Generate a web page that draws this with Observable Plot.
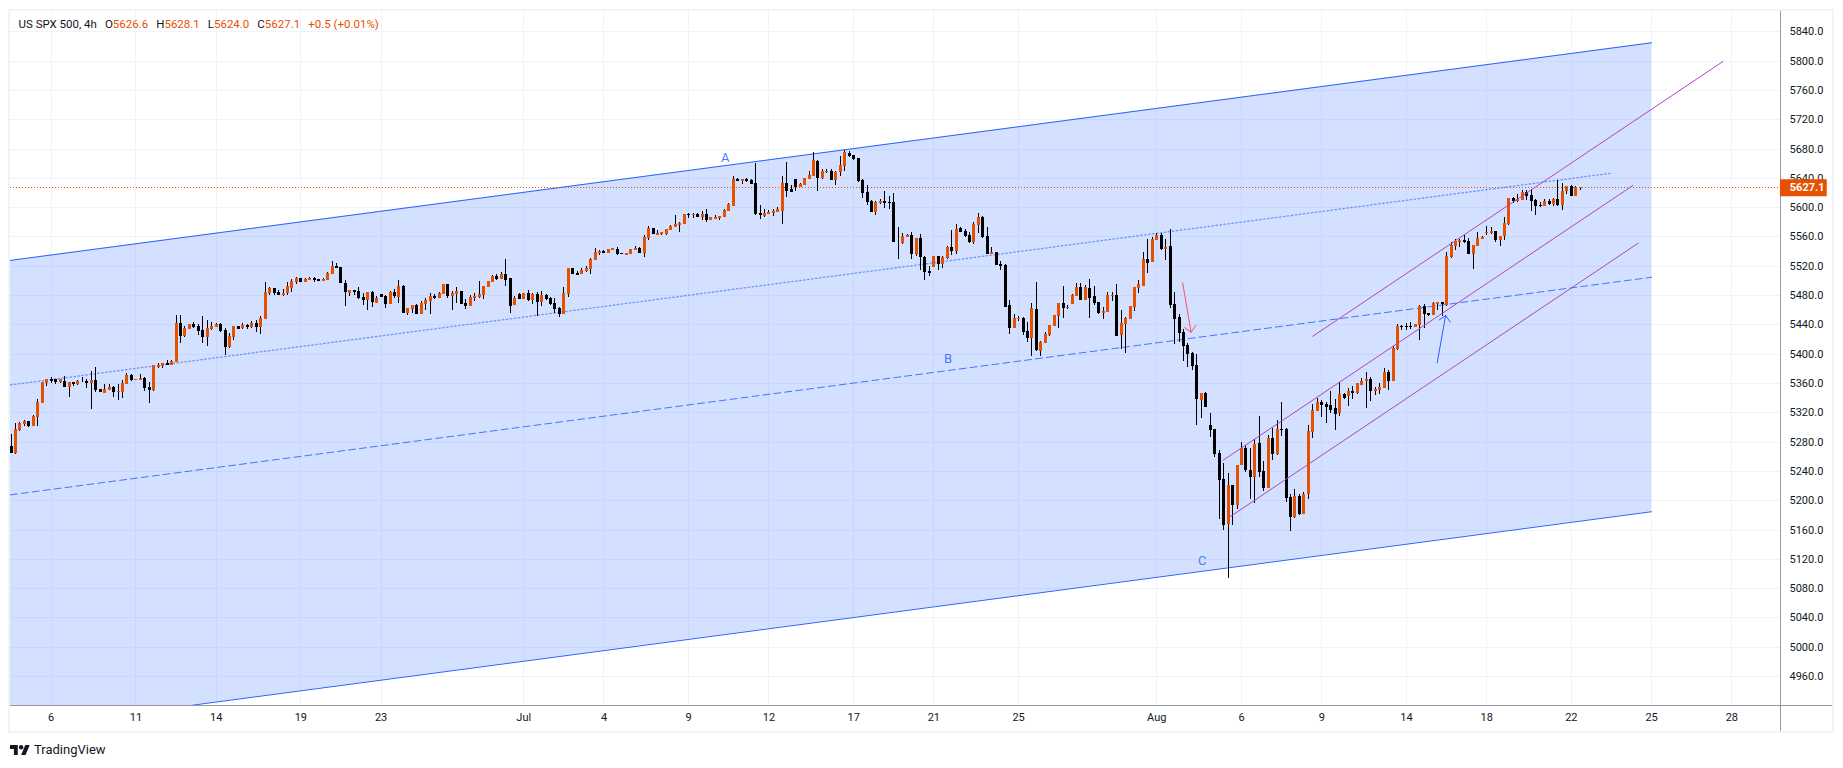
<!DOCTYPE html>
<html><head><meta charset="utf-8">
<style>
html,body{margin:0;padding:0;background:#fff;overflow:hidden}
#wrap{position:relative;width:1843px;height:768px;font-family:Roboto,sans-serif;color:#131722}
#border{position:absolute;left:8px;top:9px;width:1826px;height:724px;box-sizing:border-box;border:2px solid #f0f3fa;pointer-events:none;z-index:2}
#title{position:absolute;left:18.5px;top:17px;font-size:11.5px;line-height:15px;white-space:nowrap;z-index:3}
#title b{font-weight:400;color:#e65100}
#title span{margin-left:8px}
#logo{position:absolute;left:10px;top:742px;display:flex;align-items:center;gap:4px;font-size:13px;line-height:16px}
</style>
<script src="https://cdn.jsdelivr.net/npm/d3@7"></script>
<script src="https://cdn.jsdelivr.net/npm/@observablehq/plot@0.6"></script>
</head><body>
<div id="wrap">
<div id="border"></div>
<div id="title">US SPX 500, 4h<span>O<b>5626.6</b></span><span>H<b>5628.1</b></span><span>L<b>5624.0</b></span><span>C<b>5627.1</b></span><span><b>+0.5 (+0.01%)</b></span></div>
<div id="chart"></div>
<div id="logo"><svg width="20" height="10" viewBox="0 4 36 18"><path fill="#131722" d="M14 22H7V11H0V4h14v18zM28 22h-8l7.5-18h8L28 22z"/><circle fill="#131722" cx="20" cy="8" r="4"/></svg><span>TradingView</span></div>
</div>
<script>
// open, high, low, close
const juneBars = [
[5274,5291,5264,5264],[5264,5305,5263,5297],[5296,5307,5294,5305],[5304,5310,5301,5308],[5308,5308,5300,5301],
[5301,5316,5301,5315],[5314,5338,5301,5334],[5333,5361,5332,5361],[5360,5366,5356,5365],[5365,5368,5360,5363],
[5365,5365,5359,5361],[5361,5365,5360,5365],[5363,5370,5355,5355],[5355,5361,5341,5361],[5361,5361,5356,5359],
[5359,5364,5357,5363],[5361,5368,5361,5362],[5363,5365,5353,5360],[5360,5376,5325,5364],[5364,5382,5348,5350],
[5352,5352,5348,5348],[5346,5359,5346,5352],[5350,5358,5350,5355],[5355,5356,5341,5348],[5348,5359,5337,5349],
[5348,5364,5340,5360],[5359,5373,5359,5371],[5371,5372,5363,5364],[5364,5365,5364,5365],[5364,5372,5364,5367],
[5367,5368,5349,5353],[5354,5361,5333,5350],[5350,5385,5349,5384],[5382,5387,5380,5385],[5383,5387,5381,5387],
[5387,5391,5385,5385],[5385,5391,5385,5390],[5389,5453,5389,5442],[5442,5453,5415,5424],[5424,5438,5423,5435],
[5434,5441,5434,5440],[5440,5443,5435,5436],[5438,5440,5425,5431],[5432,5451,5415,5423],[5423,5446,5410,5435],
[5434,5443,5432,5438],[5436,5442,5436,5440],[5440,5442,5430,5431],[5432,5435,5398,5409],[5409,5428,5408,5424],
[5423,5438,5419,5438],[5438,5438,5434,5434],[5435,5442,5434,5439],[5439,5440,5434,5436],[5436,5445,5435,5442],
[5442,5446,5430,5436],[5436,5451,5427,5449],[5447,5498,5447,5484],[5483,5491,5480,5490],[5490,5490,5480,5483],
[5484,5487,5480,5480],[5480,5488,5479,5483],[5483,5498,5480,5492],[5490,5502,5484,5499],[5498,5505,5495,5503],
[5503,5503,5498,5498],[5498,5503,5498,5502],[5501,5505,5501,5503],[5503,5505,5498,5501],[5502,5502,5499,5499],
[5499,5503,5499,5502],[5501,5511,5501,5510],[5509,5526,5509,5520],[5520,5524,5517,5517],[5518,5518,5496,5496],
[5496,5500,5465,5484],[5483,5487,5479,5487],[5487,5487,5480,5484],[5485,5491,5475,5476],[5477,5483,5466,5473],
[5473,5484,5460,5484],[5484,5485,5464,5470],[5469,5479,5469,5476],[5481,5481,5477,5477],[5479,5480,5462,5468],
[5468,5485,5468,5484],[5484,5488,5476,5479],[5477,5500,5469,5492],[5492,5494,5455,5455],[5455,5462,5453,5462],
[5461,5466,5455,5466],[5466,5468,5454,5454],[5454,5472,5454,5469],[5468,5476,5460,5473],[5472,5483,5454,5479],
[5479,5481,5475,5476],[5476,5484,5476,5483],[5481,5495,5481,5495],[5495,5495,5476,5479],[5479,5485,5460,5483],
[5481,5491,5469,5485],[5486,5486,5468,5468],[5469,5475,5461,5465],[5465,5480,5465,5477],[5476,5483,5472,5479],
[5477,5499,5476,5481],[5480,5492,5475,5492],[5491,5499,5491,5499],[5498,5507,5498,5506],[5506,5509,5501,5502],
[5502,5512,5502,5509],[5509,5529,5492,5501],[5503,5503,5456,5465],[5467,5479,5467,5476],[5481,5483,5475,5475]
];
const julyBars = [
[5475,5483,5475,5483],[5483,5487,5472,5473],[5473,5483,5468,5482],[5482,5484,5452,5471],[5471,5486,5465,5480],
[5480,5482,5473,5475],[5476,5477,5467,5468],[5469,5476,5456,5461],[5462,5464,5450,5454],[5454,5491,5454,5483],
[5481,5517,5477,5517],[5517,5517,5509,5509],[5510,5513,5507,5507],[5509,5517,5509,5514],[5513,5520,5512,5517],
[5516,5531,5509,5529],[5528,5544,5528,5539],[5537,5542,5535,5540],[5540,5542,5537,5537],[5537,5543,5537,5543],
[5541,5544,5541,5544],[5543,5546,5535,5536],[5537,5537,5536,5536],[5535,5537,5535,5537],[5536,5543,5536,5543],
[5541,5547,5541,5544],[5544,5546,5537,5537],[5537,5562,5532,5559],[5558,5574,5555,5572],[5572,5572,5563,5563],
[5562,5569,5562,5565],[5563,5566,5562,5566],[5563,5570,5562,5570],[5569,5576,5569,5574],[5573,5589,5573,5577],
[5576,5580,5566,5578],[5577,5591,5577,5591],[5591,5592,5585,5589],[5589,5592,5585,5591],[5591,5592,5587,5587],
[5587,5595,5583,5591],[5591,5598,5580,5583],[5583,5587,5583,5587],[5584,5589,5584,5587],[5585,5588,5583,5588],
[5587,5598,5587,5596],[5595,5606,5595,5604],[5602,5643,5602,5638],[5638,5640,5636,5636],[5636,5638,5632,5638],
[5638,5640,5634,5636],[5637,5638,5632,5632],[5633,5660,5589,5591],[5592,5603,5584,5589],[5588,5598,5587,5592],
[5591,5596,5591,5593],[5592,5598,5588,5595],[5593,5600,5593,5598],[5595,5643,5577,5633],[5633,5662,5614,5622],
[5625,5630,5621,5621],[5638,5638,5622,5628],[5628,5633,5628,5632],[5630,5640,5630,5640],[5638,5649,5638,5644],
[5643,5675,5643,5664],[5663,5664,5622,5640],[5640,5652,5638,5649],[5648,5652,5647,5649],[5649,5652,5637,5637],
[5637,5649,5630,5648],[5648,5670,5643,5658],[5656,5678,5649,5675],[5674,5677,5669,5670],[5671,5671,5664,5666],
[5667,5667,5634,5636],[5637,5638,5612,5619],[5621,5630,5603,5607],[5608,5610,5593,5593],[5593,5608,5589,5607],
[5606,5611,5604,5608],[5608,5622,5599,5606],[5607,5615,5597,5606],[5607,5619,5552,5552],[5553,5573,5529,5553],
[5551,5565,5550,5561],[5559,5564,5559,5562],[5562,5566,5529,5536],[5536,5558,5533,5558],[5558,5563,5514,5532],
[5532,5533,5500,5511],[5513,5520,5506,5510],[5518,5533,5518,5533],[5533,5533,5514,5522],[5522,5533,5517,5532],
[5531,5547,5529,5546],[5546,5569,5535,5540],[5540,5577,5536,5570],[5571,5573,5566,5566],[5567,5570,5559,5561],
[5562,5566,5551,5552],[5552,5580,5550,5577],[5576,5592,5565,5586],[5586,5588,5558,5559],[5561,5573,5536,5536],
[5536,5546,5536,5539],[5539,5539,5521,5521],[5522,5526,5514,5520],[5521,5522,5464,5464],[5466,5473,5427,5435],
[5435,5454,5435,5449],[5448,5451,5445,5449],[5449,5450,5425,5430],[5431,5443,5416,5421],[5421,5469,5397,5462],
[5461,5498,5404,5405],[5404,5417,5397,5416],[5415,5430,5415,5427],[5425,5439,5424,5439],[5438,5453,5438,5453],
[5451,5469,5435,5469],[5469,5492,5449,5462],[5463,5466,5461,5464],[5468,5481,5468,5480],[5479,5496,5479,5491],
[5491,5496,5473,5473],[5473,5494,5473,5491],[5490,5502,5449,5476],[5479,5492,5466,5469],[5470,5470,5454,5456],
[5456,5464,5447,5458],[5457,5484,5457,5480],[5479,5484,5472,5480],[5480,5495,5424,5424],[5425,5460,5406,5442],
[5440,5450,5401,5449],[5447,5465,5447,5465],[5464,5491,5458,5491],[5490,5501,5483,5495],[5492,5539,5492,5529],
[5529,5556,5510,5524],[5525,5559,5525,5556]
];
const augustBars = [
[5555,5565,5555,5562],[5562,5565,5541,5543],[5543,5556,5528,5546],[5547,5570,5462,5466],[5468,5484,5413,5447],
[5450,5454,5416,5428],[5430,5434,5390,5410],[5412,5415,5382,5400],[5401,5402,5378,5383],[5385,5400,5303,5338],
[5337,5346,5312,5346],[5346,5348,5327,5327],[5303,5319,5286,5296],[5297,5297,5259,5263],[5264,5269,5174,5228],
[5229,5251,5159,5166],[5168,5237,5094,5221],[5221,5221,5166,5193],[5193,5248,5188,5248],[5248,5279,5248,5271],
[5271,5275,5239,5241],[5241,5271,5202,5232],[5232,5284,5196,5277],[5278,5315,5232,5239],[5240,5254,5213,5217],
[5217,5289,5217,5285],[5285,5299,5255,5263],[5263,5310,5262,5297],[5297,5334,5288,5296],[5297,5299,5198,5203],
[5204,5209,5158,5177],[5177,5215,5176,5206],[5206,5209,5180,5181],[5181,5211,5181,5209],[5209,5303,5202,5294],
[5293,5331,5285,5323],[5322,5340,5322,5334],[5334,5337,5314,5330],[5331,5334,5305,5327],[5330,5349,5319,5323],
[5326,5338,5296,5318],[5319,5361,5315,5345],[5345,5346,5338,5340],[5342,5353,5329,5349],[5349,5356,5338,5346],
[5346,5360,5345,5360],[5357,5367,5357,5363],[5363,5375,5326,5365],[5365,5368,5335,5349],[5349,5355,5344,5352],
[5350,5360,5345,5355],[5353,5380,5353,5375],[5375,5378,5350,5363],[5363,5410,5363,5408],[5406,5441,5405,5438],
[5438,5439,5432,5437],[5438,5442,5432,5437],[5438,5443,5434,5437],[5436,5441,5436,5440],[5439,5466,5419,5465],
[5465,5468,5435,5454],[5455,5455,5451,5453],[5453,5471,5453,5469],[5468,5471,5460,5471],[5471,5471,5451,5468],
[5466,5539,5465,5533],[5532,5552,5531,5548],[5547,5557,5542,5554],[5552,5557,5546,5555],[5555,5562,5551,5552],
[5554,5558,5536,5536],[5536,5548,5516,5548],[5547,5566,5547,5558],[5556,5561,5556,5559],[5565,5574,5562,5566],
[5565,5573,5563,5567],[5567,5567,5552,5555],[5555,5561,5547,5561],[5561,5587,5555,5578],[5577,5612,5576,5612],
[5612,5614,5606,5608],[5608,5618,5607,5611],[5610,5623,5610,5621],[5621,5623,5610,5615],[5617,5625,5595,5608],
[5610,5611,5589,5602],[5603,5607,5600,5602],[5602,5611,5602,5608],[5608,5611,5603,5604],[5604,5612,5602,5611],
[5611,5637,5602,5603],[5603,5633,5596,5622],[5622,5629,5618,5629],[5629,5630,5615,5615],[5615,5629,5615,5627],
[5626.6,5628.1,5624.0,5627.1]
];
const lastClose = 5627.1;
const priceTicks = [5840,5800,5760,5720,5680,5640,5600,5560,5520,5480,5440,5400,5360,5320,5280,5240,5200,5160,5120,5080,5040,5000,4960];
const timeTicks  = [9,28,46,65,83,115,133,152,170,189,207,226,257,276,294,313,331,350,368,386];
const timeLabels = ["6","11","14","19","23","Jul","4","9","12","17","21","25","Aug","6","9","14","18","22","25","28"];
// blue parallel channel, given at bar positions
const channelBars  = [-0.13,368];
const channelUpper = [5528,5825];
const channelMid   = [5208,5505];
const channelLower = [4888,5185];
const dottedBars   = [-0.13,358.9];
const dottedPrice  = [5358,5647];
// purple rising channel
const purple = [
  {bars:[292,384],   price:[5424.5,5799.5]},
  {bars:[271.9,363.8],price:[5255.3,5630.2]},
  {bars:[273.4,365], price:[5178,5551.5]}
];
const arrows = [
  {b1:262.8,p1:5497.4,b2:264.7,p2:5430,color:"#f7525f"},
  {b1:319.9,p1:5388.2,b2:321.8,p2:5452.8,color:"#2962ff"}
];
const waveLabels = [{bar:160.2,price:5668,text:"A"},{bar:210.2,price:5394,text:"B"},{bar:267.2,price:5118,text:"C"}];

const ORANGE="#e65100", BLUE="#2962ff", PURPLE="#ab47bc", GRID="#f0f3fa", AXIS="#9598a1";
const bars=[...juneBars,...julyBars,...augustBars].map(([o,h,l,c],i)=>({i,o,h,l,c}));
const up=bars.filter(d=>d.c>=d.o), down=bars.filter(d=>d.c<d.o);
const channel=channelBars.map((b,k)=>({b,u:channelUpper[k],m:channelMid[k],l:channelLower[k]}));
const dotted=dottedBars.map((b,k)=>({b,p:dottedPrice[k]}));
const xMin=-0.129,xMax=396.8,yMin=4920.1,yMax=5869.05;
const crisp={shapeRendering:"crispEdges"};

const plot=Plot.plot({
  width:1843,height:733,
  marginLeft:10,marginTop:10,marginRight:63.5,marginBottom:27.7,
  style:{background:"transparent",fontFamily:"Roboto, sans-serif",fontSize:"11px",color:"#131722"},
  x:{domain:[xMin,xMax]},
  y:{domain:[yMin,yMax]},
  marks:[
    Plot.ruleX(timeTicks,{stroke:GRID,...crisp}),
    Plot.ruleY(priceTicks,{stroke:GRID,...crisp}),
    Plot.areaY(channel,{x:"b",y1:"l",y2:"u",fill:BLUE,fillOpacity:0.2,clip:"frame"}),
    Plot.line(dotted,{x:"b",y:"p",stroke:BLUE,strokeOpacity:0.6,strokeWidth:1.3,strokeDasharray:"1.5 2.5",clip:"frame"}),
    Plot.line(channel,{x:"b",y:"m",stroke:BLUE,strokeOpacity:0.85,strokeWidth:1,strokeDasharray:"7 4",clip:"frame"}),
    Plot.line(channel,{x:"b",y:"u",stroke:BLUE,strokeWidth:1,clip:"frame"}),
    Plot.line(channel,{x:"b",y:"l",stroke:BLUE,strokeWidth:1,clip:"frame"}),
    Plot.ruleY([lastClose],{x1:xMin,x2:xMax,stroke:ORANGE,strokeDasharray:"1 2",strokeWidth:1,...crisp}),
    Plot.ruleX(bars,{x:"i",y1:"l",y2:"h",stroke:"#000",strokeWidth:1,clip:"frame",...crisp}),
    Plot.ruleX(up,{x:"i",y1:"o",y2:"c",stroke:ORANGE,strokeWidth:3,clip:"frame",...crisp}),
    Plot.ruleX(down,{x:"i",y1:"o",y2:"c",stroke:"#000",strokeWidth:3,clip:"frame",...crisp}),
    ...purple.map(p=>Plot.line(p.bars.map((b,k)=>({b,p:p.price[k]})),{x:"b",y:"p",stroke:PURPLE,strokeWidth:1})),
    Plot.arrow(arrows,{x1:"b1",y1:"p1",x2:"b2",y2:"p2",stroke:"color",strokeWidth:1,headAngle:90,headLength:12}),
    Plot.text(waveLabels,{x:"bar",y:"price",text:"text",fill:BLUE,fontSize:13,fillOpacity:0.85}),
    Plot.ruleX([xMax],{y1:4883.7,y2:yMax,stroke:AXIS,...crisp}),
    Plot.ruleY([yMin],{x1:xMin,x2:408.8,stroke:AXIS,...crisp}),
    Plot.axisY(priceTicks,{anchor:"right",tickSize:0,tickPadding:9.5,label:null,tickFormat:d=>d.toFixed(1),fill:"#131722"}),
    Plot.axisX(timeTicks,{anchor:"bottom",tickSize:0,tickPadding:7,label:null,tickFormat:(d,i)=>timeLabels[i],fill:"#131722"}),
    Plot.ruleY([lastClose],{x1:396.9,x2:407.4,stroke:ORANGE,strokeWidth:17}),
    Plot.text([lastClose],{x:399,y:d=>d,text:d=>d.toFixed(1),fill:"#fff",fontWeight:"bold",fontSize:11,textAnchor:"start"})
  ]
});
document.getElementById("chart").append(plot);
</script>
</body></html>
